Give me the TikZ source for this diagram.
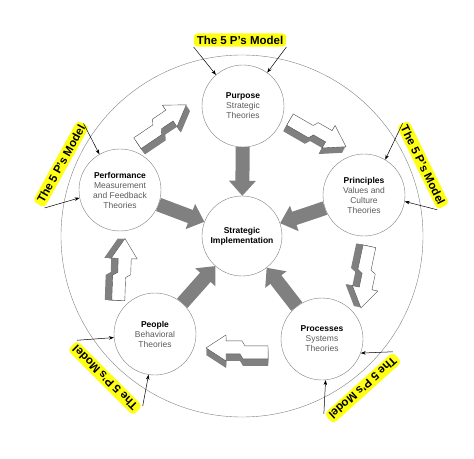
\documentclass[tikz,border=0pt]{standalone}
\usepackage{fontspec}
\setmainfont{Liberation Sans}
\usetikzlibrary{arrows.meta}
\definecolor{arrowgray}{RGB}{128,128,128}
\definecolor{hilite}{RGB}{255,255,20}
\definecolor{textgray}{RGB}{90,90,90}

\tikzset{
    zig/.pic={
        \foreach \s in {7,6,...,1}
            \fill[arrowgray, yshift=-\s] (-30,-9) -- (-30,4) -- (-7,4) -- (-4,9) -- (12,9) -- (12,15) -- (32,2) -- (12,-11) -- (12,-4) -- (-2,-4) -- (-5,-9) -- cycle;
        \draw[black!70, fill=white, line width=0.4pt] (-30,-9) -- (-30,4) -- (-7,4) -- (-4,9) -- (12,9) -- (12,15) -- (32,2) -- (12,-11) -- (12,-4) -- (-2,-4) -- (-5,-9) -- cycle;
    }
}

\begin{document}
\begin{tikzpicture}[x=1pt, y=1pt,
    pnode/.style={circle, draw=gray, minimum size=82pt, inner sep=0pt, align=center,
        font=\fontsize{8.5}{10}\selectfont, text=textgray},
    pmodel/.style={fill=hilite, rounded corners=4pt, inner xsep=3pt, inner ysep=2.5pt,
        font=\bfseries\fontsize{11.5}{12}\selectfont},
    ptr/.style={-{Stealth[length=5pt,width=3.5pt]}, line width=0.5pt},
    bigarrow/.style={arrowgray, line width=14pt, -{Triangle[width=26pt,length=15pt]}}
]
    \useasboundingbox (-242,-222) rectangle (232,236);
    \draw[gray] (0,0) circle (181);

    \node[pnode, minimum size=80pt, text=black, font=\bfseries\fontsize{8.5}{10}\selectfont] (impl) at (0,0) {Strategic\\Implementation};
    \node[pnode] (purp) at (1,130) {{\color{black}\textbf{Purpose}}\\Strategic\\Theories};
    \node[pnode] (perf) at (-122,46) {{\color{black}\textbf{Performance}}\\Measurement\\and Feedback\\Theories};
    \node[pnode] (prin) at (122,41) {{\color{black}\textbf{Principles}}\\Values and\\Culture\\Theories};
    \node[pnode] (peop) at (-87,-98) {{\color{black}\textbf{People}}\\Behavioral\\Theories};
    \node[pnode] (proc) at (80,-103) {{\color{black}\textbf{Processes}}\\Systems\\Theories};

    % gray arrows into the centre
    \foreach \n in {purp,perf,prin,peop,proc}
        \draw[bigarrow] (\n) -- (impl);

    % 3d arrows round the ring
    \foreach \a/\r/\rot/\fl in {126/138/34/1, 54/128/-30/1, -18/130/-102/1, 268/114/180/-1, 196/125/88/-1}
        \pic[rotate=\rot, yscale=\fl] at (\a:\r) {zig};

    % the five labels
    \node[pmodel] (mT) at (-2,196) {The 5 P’s Model};
    \node[pmodel, rotate=61] (mL) at (-181,72) {The 5 P’s Model};
    \node[pmodel, rotate=-64] (mR) at (181,71) {The 5 P’s Model};
    \node[pmodel, rotate=135] (mBL) at (-137,-142) {The 5 P’s Model};
    \node[pmodel, rotate=-138] (mBR) at (121,-152) {The 5 P’s Model};

    \draw[ptr] (mT.south west) -- (purp.131);
    \draw[ptr] (mT.south east) -- (purp.54);
    \draw[ptr] (mL.east) -- (perf.120);
    \draw[ptr] (mL.south west) -- (perf.191);
    \draw[ptr] (mR.west) -- (prin.59);
    \draw[ptr] (mR.south east) -- (prin.351);
    \draw[ptr] (mBL.south east) -- (peop.185);
    \draw[ptr] (mBL.south west) -- (peop.261);
    \draw[ptr] (mBR.south west) -- (proc.340);
    \draw[ptr] (mBR.south east) -- (proc.275);
\end{tikzpicture}
\end{document}
